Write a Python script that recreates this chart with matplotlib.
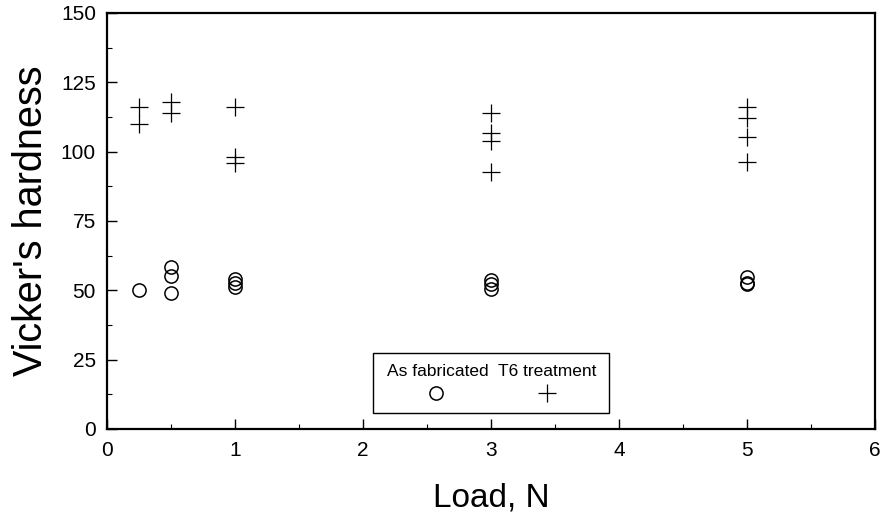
import matplotlib
matplotlib.use("Agg")
import matplotlib.pyplot as plt
from matplotlib.patches import Rectangle
from matplotlib.ticker import MultipleLocator

plt.rcParams['font.family'] = ['Liberation Sans', 'DejaVu Sans']

# Data
asfab_load = [0.25, 0.5, 0.5, 0.5, 1, 1, 1, 3, 3, 3, 5, 5, 5]
asfab_hv = [50.1, 58.3, 55.3, 49.2, 54.1, 52.5, 51.1, 53.7, 52.3, 50.4, 54.7, 52.8, 52.2]
t6_load = [0.25, 0.25, 0.5, 0.5, 1, 1, 1, 3, 3, 3, 3, 5, 5, 5, 5]
t6_hv = [116.0, 110.0, 117.8, 114.1, 116.0, 98.0, 96.0, 113.8, 106.9, 103.9, 92.8, 116.2, 112.3, 105.2, 96.4]
xticks = [0, 1, 2, 3, 4, 5, 6]
yticks = [0, 25, 50, 75, 100, 125, 150]

fig = plt.figure(figsize=(8.86, 5.16), dpi=100)
ax = fig.add_axes([107/886, 1-429/516, (875-107)/886, (429-13)/516])

ax.plot(asfab_load, asfab_hv, linestyle='none', marker='o', markersize=9.5,
        markerfacecolor='none', markeredgecolor='black', markeredgewidth=1.1)
ax.plot(t6_load, t6_hv, linestyle='none', marker='+', markersize=12.5,
        color='black', markeredgewidth=0.9)

ax.set_xlim(0, 6)
ax.set_ylim(0, 150)
ax.set_xticks(xticks)
ax.set_yticks(yticks)
ax.xaxis.set_minor_locator(MultipleLocator(0.5))
ax.yaxis.set_minor_locator(MultipleLocator(12.5))
ax.tick_params(which='major', direction='in', length=7, width=1, labelsize=15)
ax.tick_params(axis='x', which='major', pad=9)
ax.tick_params(axis='y', which='major', pad=8)
ax.tick_params(which='minor', direction='in', length=3.5, width=0.8)
for s in ax.spines.values():
    s.set_linewidth(1.6)

ax.set_xlabel('Load, N', fontsize=24, labelpad=16)
ax.set_ylabel("Vicker's hardness", fontsize=28.5, labelpad=8)

# Custom legend box
def px2ax(x, y):
    return ((x - 107) / (875 - 107), (429 - y) / (429 - 13))

x0, y0 = px2ax(373, 413)
x1, y1 = px2ax(609, 353)
ax.add_patch(Rectangle((x0, y0), x1 - x0, y1 - y0, transform=ax.transAxes,
                       facecolor='white', edgecolor='black', linewidth=1.0, zorder=5))
tx, ty = px2ax(438, 372)
ax.text(tx, ty, 'As fabricated', transform=ax.transAxes, ha='center', va='center',
        fontsize=12.5, zorder=6)
tx, ty = px2ax(547, 372)
ax.text(tx, ty, 'T6 treatment', transform=ax.transAxes, ha='center', va='center',
        fontsize=12.5, zorder=6)
mx, my = px2ax(436, 393)
ax.plot([mx], [my], transform=ax.transAxes, marker='o', markersize=9.5,
        markerfacecolor='none', markeredgecolor='black', markeredgewidth=1.1,
        linestyle='none', zorder=6, clip_on=False)
mx, my = px2ax(547, 393)
ax.plot([mx], [my], transform=ax.transAxes, marker='+', markersize=12.5,
        color='black', markeredgewidth=0.9, linestyle='none', zorder=6, clip_on=False)

fig.savefig('out.png', dpi=100)
